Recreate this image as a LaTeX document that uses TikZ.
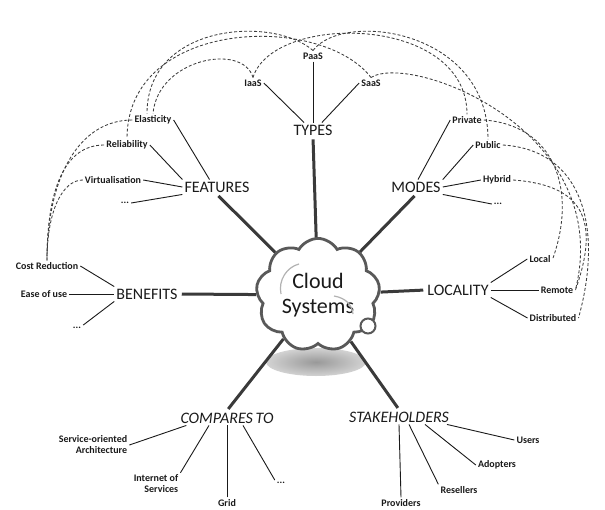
\documentclass[tikz,border=0pt]{standalone}
\usepackage{fontspec}
\setmainfont{Carlito}
\usetikzlibrary{shapes.symbols}
\definecolor{fg}{HTML}{1A1A1A}
\definecolor{hubline}{HTML}{3A3A3A}
\tikzset{
  topic/.style={font=\fontsize{16}{18}\selectfont, text=fg, inner sep=2pt},
  ttopic/.style={topic, font=\fontsize{16}{18}\selectfont\itshape},
  item/.style={font=\fontsize{10}{11}\selectfont\bfseries, text=fg, inner sep=2pt},
  hub/.style={draw=hubline, line width=3pt, shorten >=2pt},
  leg/.style={draw=fg, line width=0.9pt},
  xlink/.style={draw=fg!85, densely dashed, line width=0.85pt},
}

\begin{document}
\begin{tikzpicture}[x=1pt,y=-1pt]
  \useasboundingbox (0,0) rectangle (605,509);

  % shadow and cloud
  \shade[inner color=gray!80, outer color=gray!35] (316,362) ellipse [x radius=50pt, y radius=14pt];
  \node[cloud, cloud puffs=9, cloud puff arc=120, aspect=1.15, draw=black!65, line width=2.8pt,
        fill=white, minimum width=106pt, minimum height=94pt, align=center,
        font=\fontsize{22}{25}\selectfont, text=fg] (cloud) at (318,295) {Cloud\\Systems};
  \draw[black!65, line width=2pt, fill=white] (368,326) circle (7.5pt);
  \draw[black!30, line width=1.2pt] (281,294) .. controls (278,280) and (287,267) .. (299,264);
  \draw[black!30, line width=1.2pt] (334,296) .. controls (346,298) and (352,305) .. (353,314);

  % main topics
  \node[topic] (types) at (313,130) {TYPES};
  \node[topic] (features) at (217,187) {FEATURES};
  \node[topic] (modes) at (416,187) {MODES};
  \node[topic] (benefits) at (147,294) {BENEFITS};
  \node[topic] (locality) at (458,290) {LOCALITY};
  \node[ttopic] (compare) at (227,418) {COMPARES\,TO};
  \node[ttopic] (stakeholders) at (399,417) {STAKEHOLDERS};

  % items
  \node[item] (iaas) at (253,83) {IaaS};
  \node[item] (paas) at (313,56) {PaaS};
  \node[item] (saas) at (371,83) {SaaS};
  \node[item] (elasticity) at (153,120) {Elasticity};
  \node[item] (reliability) at (127,145) {Reliability};
  \node[item] (virtual) at (113,180) {Virtualisation};
  \node[item] (featmore) at (125,203) {...};
  \node[item] (private) at (467,120) {Private};
  \node[item] (public) at (488,145) {Public};
  \node[item] (hybrid) at (497,180) {Hybrid};
  \node[item] (modemore) at (498,204) {...};
  \node[item] (costred) at (47,266) {Cost Reduction};
  \node[item] (easeuse) at (44,294) {Ease of use};
  \node[item] (benmore) at (77,328) {...};
  \node[item] (local) at (540,259) {Local};
  \node[item] (remote) at (557,290) {Remote};
  \node[item] (distrib) at (553,318) {Distributed};
  \node[item, align=right] (soa) at (93,445) {Service-oriented\\Architecture};
  \node[item, align=right] (ios) at (156,484) {Internet of\\Services};
  \node[item] (grid) at (227,503) {Grid};
  \node[item] (compmore) at (281,483) {...};
  \node[item] (users) at (528,440) {Users};
  \node[item] (adopters) at (497,465) {Adopters};
  \node[item] (resellers) at (459,490) {Resellers};
  \node[item] (providers) at (401,503) {Providers};

  % cloud to topics
  \draw[hub] (cloud) -- (types.south);
  \draw[hub] (cloud) -- (features.south);
  \draw[hub] (cloud) -- (modes.south);
  \draw[hub] (cloud) -- (benefits.east);
  \draw[hub] (cloud) -- (locality.west);
  \draw[hub] (cloud) -- (compare.north);
  \draw[hub] (cloud) -- (stakeholders.north);

  % topics to items
  \draw[leg] (iaas.east) -- (types.140);
  \draw[leg] (paas.south) -- (types.north);
  \draw[leg] (saas.west) -- (types.40);
  \draw[leg] (elasticity.east) -- (features.135);
  \draw[leg] (reliability.east) -- (features.north west);
  \draw[leg] (virtual.east) -- (features.west);
  \draw[leg] (featmore.east) -- (features.south west);
  \draw[leg] (private.west) -- (modes.75);
  \draw[leg] (public.west) -- (modes.north east);
  \draw[leg] (hybrid.west) -- (modes.east);
  \draw[leg] (modes.south east) -- (modemore.west);
  \draw[leg] (costred.east) -- (benefits.north west);
  \draw[leg] (easeuse.east) -- (benefits.west);
  \draw[leg] (benmore.north east) -- (benefits.south west);
  \draw[leg] (locality.north east) -- (local.west);
  \draw[leg] (locality.east) -- (remote.west);
  \draw[leg] (locality.south east) -- (distrib.west);
  \draw[leg] (soa.east) -- ([xshift=8pt]compare.south west);
  \draw[leg] (ios.north east) -- ([xshift=-18pt]compare.south);
  \draw[leg] (grid.north) -- (compare.south);
  \draw[leg] ([xshift=16pt]compare.south) -- (compmore.north west);
  \draw[leg] (providers.north) -- (stakeholders.south);
  \draw[leg] ([xshift=10pt]stakeholders.south) -- (resellers.north west);
  \draw[leg] ([xshift=26pt]stakeholders.south) -- (adopters.west);
  \draw[leg] ([xshift=48pt]stakeholders.south) -- (users.west);

  % cross links
  \draw[xlink] (iaas.north) .. controls +(-10,-35) and +(5,-55) .. (elasticity.north);
  \draw[xlink] (paas.north) .. controls +(-40,-35) and +(0,-90) .. ([xshift=-6pt]elasticity.north);
  \draw[xlink] (saas.north) .. controls +(-50,-65) and +(0,-120) .. (reliability.north);
  \draw[xlink] (iaas.north) .. controls +(20,-65) and +(0,-100) .. (private.north);
  \draw[xlink] (paas.north) .. controls +(30,-40) and +(0,-110) .. (public.north);
  \draw[xlink] (saas.north) .. controls +(40,-25) and +(40,-160) .. (remote.east);
  \draw[xlink] (private.east) .. controls +(70,5) and +(25,-70) .. (local.east);
  \draw[xlink] (public.east) .. controls +(80,5) and +(25,-90) .. (distrib.east);
  \draw[xlink] (hybrid.east) .. controls +(70,5) and +(25,-70) .. (remote.east);
  \draw[xlink] (elasticity.west) .. controls +(-55,0) and +(0,-80) .. (costred.north);
  \draw[xlink] (reliability.west) .. controls +(-40,0) and +(0,-70) .. (costred.north);
  \draw[xlink] (virtual.west) .. controls +(-20,0) and +(0,-50) .. (costred.north);
\end{tikzpicture}
\end{document}
